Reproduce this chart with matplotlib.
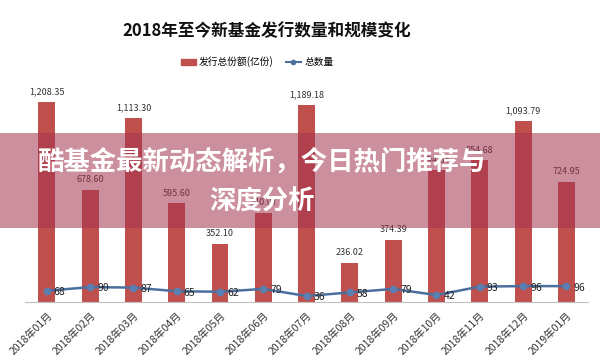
import matplotlib
matplotlib.use("Agg")
import matplotlib.pyplot as plt
from matplotlib.patches import Rectangle
from matplotlib.lines import Line2D

plt.rcParams["font.family"] = ["Noto Sans CJK SC", "DejaVu Sans"]

months = ["2018年01月", "2018年02月", "2018年03月", "2018年04月", "2018年05月",
          "2018年06月", "2018年07月", "2018年08月", "2018年09月", "2018年10月",
          "2018年11月", "2018年12月", "2019年01月"]
shares = [1208.35, 678.60, 1113.30, 595.60, 352.10, 540.07, 1189.18,
          236.02, 374.39, 794.64, 854.68, 1093.79, 724.95]
counts = [68, 90, 87, 65, 62, 79, 36, 58, 79, 42, 93, 96, 96]

bar_color = "#C0504D"
line_color = "#4A6F9E"

fig = plt.figure(figsize=(6.0, 3.63), dpi=100)
ax = fig.add_axes([0.042, 0.168, 0.938, 0.612])

x = list(range(len(months)))
ax.bar(x, shares, width=0.39, color=bar_color, zorder=2)
ax.plot(x, counts, color=line_color, linewidth=1.8, marker="o",
        markersize=4.5, markerfacecolor="#5B7FB0", markeredgecolor="#5B7FB0", zorder=3)

for xi, v in zip(x, shares):
    ax.annotate(f"{v:,.2f}", (xi, v), xytext=(0, 4), textcoords="offset points",
                ha="center", va="bottom", fontsize=6.5, color="#333333")
for xi, v in zip(x, counts):
    ax.annotate(f"{v}", (xi, v), xytext=(5, -1), textcoords="offset points",
                ha="left", va="center", fontsize=7.5, color="#222222")

ax.set_xlim(-0.5, 12.5)
ax.set_ylim(0, 1341)
ax.set_yticks([])
for side in ["top", "right", "left"]:
    ax.spines[side].set_visible(False)
ax.spines["bottom"].set_color("#BFBFBF")
ax.set_xticks(x)
ax.set_xticklabels(months, rotation=45, ha="right", rotation_mode="anchor",
                   fontsize=7.5, color="#333333")
ax.tick_params(axis="x", length=0, pad=6)

fig.text(267 / 600, 1 - 31 / 363, "2018年至今新基金发行数量和规模变化",
         ha="center", va="center", fontsize=12, fontweight="bold", color="#111111")

handles = [Rectangle((0, 0), 1, 1, color=bar_color),
           Line2D([0], [0], color=line_color, linewidth=1.5, marker="o", markersize=3)]
fig.legend(handles, ["发行总份额(亿份)", "总数量"], loc="center",
           bbox_to_anchor=(257 / 600, 1 - 62 / 363), ncol=2, frameon=False,
           fontsize=7, handlelength=1.6, handletextpad=0.3, columnspacing=1.2)

# overlay banner
fig.patches.append(Rectangle((0, 1 - 228 / 363), 1, 95 / 363, transform=fig.transFigure,
                             facecolor=(0.64, 0.2, 0.3, 0.55), edgecolor="none", zorder=10))
fig.text(262 / 600, 1 - 162 / 363, "酷基金最新动态解析，今日热门推荐与", ha="center", va="center",
         fontsize=19, fontweight="bold", color="white", zorder=11)
fig.text(262 / 600, 1 - 202 / 363, "深度分析", ha="center", va="center",
         fontsize=19, fontweight="bold", color="white", zorder=11)

fig.savefig("out.png", dpi=100)
